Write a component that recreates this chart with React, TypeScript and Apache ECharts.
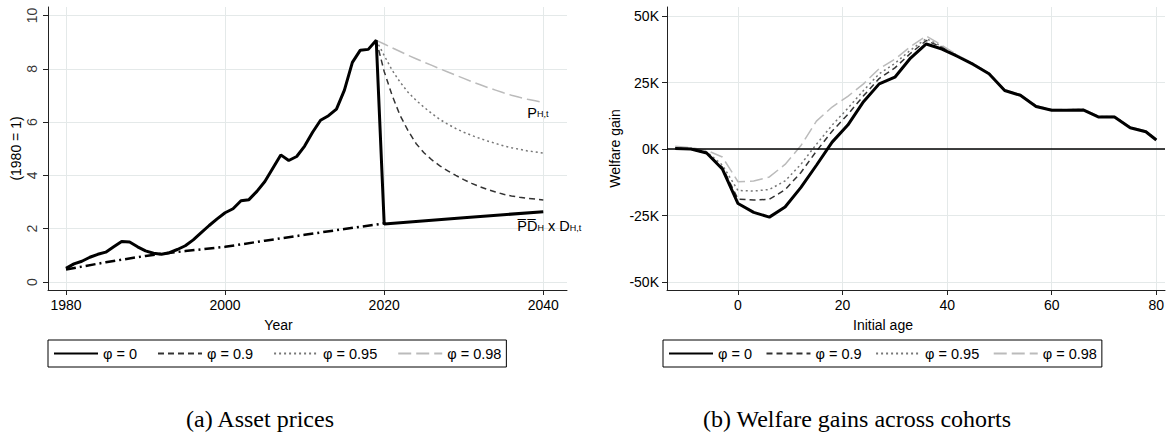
import React, { useEffect, useRef } from "react";
import * as echarts from "echarts";

// ---------- Panel (a): asset prices ----------
const histYears = [
  1980, 1981, 1982, 1983, 1984, 1985, 1986, 1987, 1988, 1989,
  1990, 1991, 1992, 1993, 1994, 1995, 1996, 1997, 1998, 1999,
  2000, 2001, 2002, 2003, 2004, 2005, 2006, 2007, 2008, 2009,
  2010, 2011, 2012, 2013, 2014, 2015, 2016, 2017, 2018, 2019,
];
const histPrice = [
  0.51, 0.68, 0.78, 0.93, 1.04, 1.12, 1.32, 1.52, 1.5, 1.32,
  1.17, 1.08, 1.04, 1.1, 1.22, 1.36, 1.58, 1.85, 2.12, 2.37,
  2.6, 2.75, 3.05, 3.09, 3.4, 3.77, 4.27, 4.77, 4.56, 4.71,
  5.1, 5.62, 6.07, 6.24, 6.49, 7.2, 8.24, 8.7, 8.73, 9.07,
];
const projYears = [2020, 2030, 2040];
const projPhi0 = [2.18, 2.41, 2.64];
const decayYears = [
  2019, 2020, 2021, 2022, 2023, 2024, 2025, 2026, 2027, 2028, 2029,
  2030, 2031, 2032, 2033, 2034, 2035, 2036, 2037, 2038, 2039, 2040,
];
const decayPhi90 = [
  9.07, 7.9, 7.0, 6.25, 5.68, 5.2, 4.85, 4.58, 4.36, 4.17, 4.0,
  3.84, 3.7, 3.58, 3.47, 3.38, 3.29, 3.23, 3.18, 3.14, 3.11, 3.08,
];
const decayPhi95 = [
  9.07, 8.5, 7.95, 7.5, 7.12, 6.82, 6.56, 6.32, 6.1, 5.92, 5.76,
  5.62, 5.5, 5.39, 5.29, 5.2, 5.11, 5.04, 4.98, 4.92, 4.88, 4.84,
];
const decayPhi98 = [
  9.07, 8.93, 8.79, 8.65, 8.51, 8.38, 8.25, 8.13, 8.0, 7.88, 7.76,
  7.64, 7.52, 7.41, 7.3, 7.2, 7.1, 7.01, 6.93, 6.86, 6.8, 6.74,
];
const pdYears = [1980, 1985, 1990, 1992, 1995, 2000, 2005, 2010, 2015, 2020];
const pdValues = [0.47, 0.74, 0.98, 1.06, 1.16, 1.32, 1.55, 1.77, 1.99, 2.2];
const yearTicks = [1980, 2000, 2020, 2040];
const priceTicks = [0, 2, 4, 6, 8, 10];

// ---------- Panel (b): welfare gains (thousands) ----------
const ages = [
  -12, -9, -6, -3, 0, 3, 6, 9, 12, 15, 18, 21, 24, 27, 30, 33,
  36, 39, 42, 45, 48, 51, 54, 57, 60, 63, 66, 69, 72, 75, 78, 80,
];
const gainPhi0 = [
  0.2, 0, -1.5, -7.5, -20.5, -23.8, -25.6, -21.8, -14.5, -6.1, 2.6, 9.0, 17.8, 24.5, 27, 34.2,
  39.5, 37.6, 34.8, 31.8, 28.3, 22, 20.2, 16, 14.6, 14.6, 14.7, 12, 12, 8, 6.5, 3.4,
];
const gainPhi90 = [
  0.3, 0, -1.6, -6.8, -18.8, -19.2, -18.9, -15.3, -8.9, -0.8, 6.7, 13.0, 20.0, 26.5, 30.5, 36.0,
  40.8, 38.3, 35.0, 32.0, 28.4, 22.1, 20.3, 16.1, 14.7, 14.7, 14.8, 12.1, 12.1, 8.1, 6.6, 3.5,
];
const gainPhi95 = [
  0.6, 0.2, -1.0, -6.0, -15.6, -15.8, -15.2, -12.0, -5.8, 1.8, 9.0, 15.3, 22.0, 28.3, 32.2, 37.2,
  41.5, 38.6, 35.1, 32.0, 28.5, 22.2, 20.4, 16.2, 14.8, 14.8, 14.9, 12.2, 12.2, 8.2, 6.7, 3.6,
];
const gainPhi98 = [
  1.0, 0.5, -0.5, -3.0, -12.3, -12.0, -10.5, -5.8, 1.2, 10.5, 15.8, 19.8, 24.5, 30.2, 33.8, 38.5,
  42.5, 39.0, 35.3, 32.1, 28.6, 22.3, 20.5, 16.3, 14.9, 14.9, 15.0, 12.3, 12.3, 8.3, 6.8, 3.7,
];
const ageTicks = [0, 20, 40, 60, 80];
const gainTicks = [-50, -25, 0, 25, 50];

const seriesNames = ["\u03c6 = 0", "\u03c6 = 0.9", "\u03c6 = 0.95", "\u03c6 = 0.98"];

const FONT = "'Liberation Sans', Arial, Helvetica, sans-serif";
const SERIF = "'Liberation Serif', 'Times New Roman', serif";
const AXIS_COLOR = "#222";
const GRID_COLOR = "#e4e9e9";

const LEFT_X_MIN = 1977.74;
const LEFT_X_MAX = 2042.98;

const styles = [
  { color: "#000", width: 3, type: "solid" as any },
  { color: "#333", width: 1.5, type: [6, 4] as any },
  { color: "#777", width: 1.5, type: [2, 3] as any },
  { color: "#bbb", width: 1.5, type: [13, 5] as any },
];

function zip(xs: number[], ys: number[]) {
  return xs.map((x, i) => [x, ys[i]]);
}

export default function App() {
  const ref = useRef<HTMLDivElement>(null);

  useEffect(() => {
    document.body.style.margin = "0";
    if (!ref.current) return;
    const chart = echarts.init(ref.current, null, { renderer: "svg" });

    const axisCommon = {
      axisLine: { show: true, onZero: false, lineStyle: { color: AXIS_COLOR, width: 1 } },
      axisTick: { show: true, length: 5, lineStyle: { color: AXIS_COLOR } },
      splitLine: { show: true, lineStyle: { color: GRID_COLOR, width: 1 } },
      nameTextStyle: { fontFamily: FONT, fontSize: 14, color: "#000" },
    };

    const phi0Left = zip(histYears, histPrice).concat(zip(projYears, projPhi0));
    const lastIdx = decayYears.length - 1;

    const mkLine = (name: string, data: number[][], idx: number, xi: number, extra: any = {}) => ({
      name,
      type: "line",
      xAxisIndex: xi,
      yAxisIndex: xi,
      data,
      symbol: "none",
      showSymbol: false,
      z: idx === 0 ? 4 : 3,
      lineStyle: { color: styles[idx].color, width: styles[idx].width, type: styles[idx].type },
      itemStyle: { color: styles[idx].color },
      emphasis: { disabled: true },
      ...extra,
    });

    const legendCommon = {
      data: seriesNames,
      top: 340,
      orient: "horizontal",
      borderColor: "#000",
      borderWidth: 1,
      padding: [6, 5, 6, 5],
      itemWidth: 44,
      itemHeight: 14,
      itemStyle: { opacity: 0 },
      textStyle: { fontFamily: FONT, fontSize: 14.5, color: "#000" },
      selectedMode: false,
    };

    const option: any = {
      animation: false,
      textStyle: { fontFamily: FONT },
      title: [
        {
          text: "(a) Asset prices",
          left: 255,
          top: 402,
          textAlign: "center",
          textStyle: { fontFamily: SERIF, fontSize: 24, fontWeight: "normal", color: "#000" },
        },
        {
          text: "(b) Welfare gains across cohorts",
          left: 852,
          top: 402,
          textAlign: "center",
          textStyle: { fontFamily: SERIF, fontSize: 24, fontWeight: "normal", color: "#000" },
        },
      ],
      legend: [
        { ...legendCommon, left: 48, itemGap: 20 },
        { ...legendCommon, left: 663, itemGap: 13.5 },
      ],
      grid: [
        { left: 48, top: 7, width: 519, height: 283, containLabel: false },
        { left: 667, top: 7, width: 498, height: 283, containLabel: false },
      ],
      xAxis: [
        {
          ...axisCommon,
          gridIndex: 0,
          type: "value",
          min: LEFT_X_MIN,
          max: LEFT_X_MAX,
          name: "Year",
          nameLocation: "middle",
          nameGap: 28,
          nameTextStyle: { ...axisCommon.nameTextStyle, padding: [0, 58, 0, 0] },
          axisTick: { ...axisCommon.axisTick, customValues: yearTicks },
          axisLabel: {
            customValues: yearTicks,
            fontSize: 14,
            color: "#000",
            margin: 8,
            fontFamily: FONT,
            formatter: (v: number) => String(v),
          },
        },
        {
          ...axisCommon,
          gridIndex: 1,
          type: "value",
          min: -13.58,
          max: 81.66,
          name: "Initial age",
          nameLocation: "middle",
          nameGap: 28,
          nameTextStyle: { ...axisCommon.nameTextStyle, padding: [0, 66, 0, 0] },
          axisTick: { ...axisCommon.axisTick, customValues: ageTicks },
          axisLabel: {
            customValues: ageTicks,
            fontSize: 14,
            color: "#000",
            margin: 8,
            fontFamily: FONT,
            formatter: (v: number) => String(v),
          },
        },
      ],
      yAxis: [
        {
          ...axisCommon,
          gridIndex: 0,
          type: "value",
          min: -0.3,
          max: 10.32,
          name: "(1980 = 1)",
          nameLocation: "middle",
          nameGap: 25,
          axisTick: { ...axisCommon.axisTick, customValues: priceTicks },
          axisLabel: { show: false, customValues: priceTicks },
        },
        {
          ...axisCommon,
          gridIndex: 1,
          type: "value",
          min: -53.0,
          max: 53.4,
          name: "Welfare gain",
          nameLocation: "middle",
          nameGap: 45,
          axisTick: { ...axisCommon.axisTick, customValues: gainTicks },
          axisLabel: {
            customValues: gainTicks,
            fontSize: 14,
            color: "#000",
            margin: 8,
            fontFamily: FONT,
            formatter: (v: number) => `${v}K`,
          },
        },
      ],
      series: [
        // Panel (a): vertical y tick labels, placed through the y scale
        {
          name: "yTickLabels",
          type: "scatter",
          xAxisIndex: 0,
          yAxisIndex: 0,
          data: priceTicks.map((v) => [LEFT_X_MIN, v]),
          symbolSize: 0,
          silent: true,
          clip: false,
          z: 10,
          label: {
            show: true,
            formatter: (p: any) => String(p.value[1]),
            position: [-16, 0],
            rotate: 90,
            align: "center",
            verticalAlign: "middle",
            fontFamily: FONT,
            fontSize: 14,
            color: "#000",
          },
        },
        {
          name: "PD",
          type: "line",
          xAxisIndex: 0,
          yAxisIndex: 0,
          data: zip(pdYears, pdValues),
          symbol: "none",
          z: 2,
          lineStyle: { color: "#000", width: 2.5, type: [10, 4, 2, 4] },
          emphasis: { disabled: true },
        },
        mkLine(seriesNames[0], phi0Left, 0, 0, {
          markPoint: {
            symbol: "circle",
            symbolSize: 0,
            silent: true,
            data: [
              {
                coord: [projYears[projYears.length - 1], projPhi0[projPhi0.length - 1]],
                label: {
                  show: true,
                  position: [-26, 7],
                  align: "left",
                  verticalAlign: "top",
                  formatter: "{n|P\u0305D\u0305}{s|H}{n| x D}{s|H,t}",
                  rich: {
                    n: { fontFamily: FONT, fontSize: 14.5, color: "#000", padding: [0, 0, 3, 0] },
                    s: { fontFamily: FONT, fontSize: 9, color: "#000" },
                  },
                },
              },
            ],
          },
        }),
        mkLine(seriesNames[1], zip(decayYears, decayPhi90), 1, 0),
        mkLine(seriesNames[2], zip(decayYears, decayPhi95), 2, 0),
        mkLine(seriesNames[3], zip(decayYears, decayPhi98), 3, 0, {
          markPoint: {
            symbol: "circle",
            symbolSize: 0,
            silent: true,
            data: [
              {
                coord: [decayYears[lastIdx], decayPhi98[lastIdx]],
                label: {
                  show: true,
                  position: [-16, 3],
                  align: "left",
                  verticalAlign: "top",
                  formatter: "{n|P}{s|H,t}",
                  rich: {
                    n: { fontFamily: FONT, fontSize: 14.5, color: "#000", padding: [0, 0, 3, 0] },
                    s: { fontFamily: FONT, fontSize: 9, color: "#000" },
                  },
                },
              },
            ],
          },
        }),
        // Panel (b)
        mkLine(seriesNames[0], zip(ages, gainPhi0), 0, 1, {
          markLine: {
            silent: true,
            symbol: "none",
            label: { show: false },
            lineStyle: { color: "#000", width: 1.5, type: "solid" },
            data: [{ yAxis: 0 }],
          },
        }),
        mkLine(seriesNames[1], zip(ages, gainPhi90), 1, 1),
        mkLine(seriesNames[2], zip(ages, gainPhi95), 2, 1),
        mkLine(seriesNames[3], zip(ages, gainPhi98), 3, 1),
      ],
    };

    chart.setOption(option);
    return () => chart.dispose();
  }, []);

  return <div ref={ref} style={{ width: 1169, height: 432, background: "#fff" }} />;
}
